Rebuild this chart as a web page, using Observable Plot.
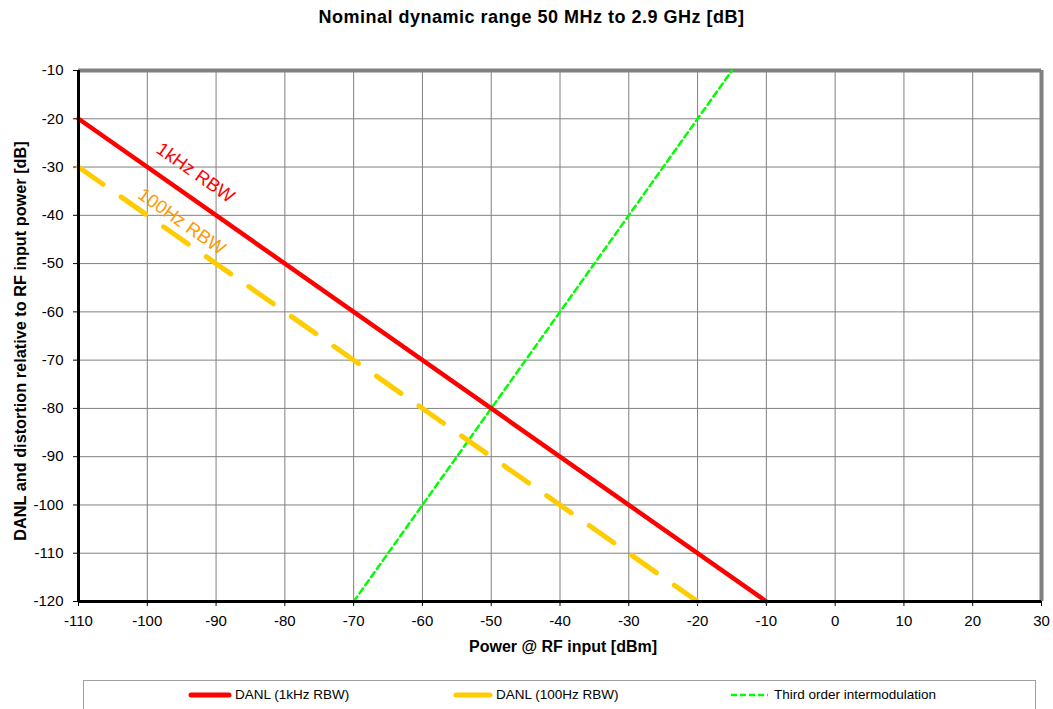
<!DOCTYPE html>
<html>
<head>
<meta charset="utf-8">
<script src="https://cdn.jsdelivr.net/npm/d3@7"></script>
<script src="https://cdn.jsdelivr.net/npm/@observablehq/plot@0.6"></script>
<style>
  html, body { margin: 0; padding: 0; background: #fff; }
  body { width: 1053px; height: 709px; overflow: hidden; font-family: "Liberation Sans", Arial, sans-serif; position: relative; }
  #title { height: 34px; line-height: 35px; text-align: center; font-weight: bold; font-size: 18px; letter-spacing: 0.5px; color: #000; padding-left: 10px; }
  #legend { position: absolute; left: 83px; top: 680px; width: 953px; height: 40px; border: 1px solid #a0a0a0; box-sizing: border-box; font-size: 13.5px; }
  .item { position: absolute; top: 6px; display: flex; align-items: center; white-space: nowrap; }
  .item svg { margin-right: 3px; }
</style>
</head>
<body>
<div id="title">Nominal dynamic range 50 MHz to 2.9 GHz [dB]</div>
<div id="chart"></div>
<div id="legend"></div>
<script>
const xTicks = [-110, -100, -90, -80, -70, -60, -50, -40, -30, -20, -10, 0, 10, 20, 30];
const yTicks = [-10, -20, -30, -40, -50, -60, -70, -80, -90, -100, -110, -120];

const danl1kX = [-110, -10];
const danl1kY = [-20, -120];
const danl100X = [-110, -20];
const danl100Y = [-30, -120];
const imdX = [-70, -15];
const imdY = [-120, -10];

const seriesNames = ["DANL (1kHz RBW)", "DANL (100Hz RBW)", "Third order intermodulation"];
const labelTexts = ["1kHz RBW", "100Hz RBW"];
const labelX = [-93, -95];
const labelY = [-31.2, -41.3];

const toPts = (xs, ys) => xs.map((x, i) => ({x, y: ys[i]}));

const chart = Plot.plot({
  width: 1053,
  height: 640,
  marginLeft: 78,
  marginRight: 12,
  marginTop: 36,
  marginBottom: 73,
  style: {fontFamily: "'Liberation Sans', Arial, sans-serif", fontSize: "15px", color: "#000", background: "#fff"},
  x: {domain: [-110, 30], label: null},
  y: {domain: [-120, -10], label: null},
  marks: [
    Plot.ruleX(xTicks.slice(1, -1), {stroke: "#808080", strokeWidth: 1}),
    Plot.ruleY(yTicks.slice(1, -1), {stroke: "#808080", strokeWidth: 1}),
    Plot.ruleY([-10], {stroke: "#808080", strokeWidth: 4}),
    Plot.ruleX([30], {stroke: "#808080", strokeWidth: 4}),
    Plot.axisX({ticks: xTicks, tickSize: 5, tickPadding: 9, label: null, tickFormat: d => String(d)}),
    Plot.axisY({ticks: yTicks, tickSize: 5, tickPadding: 10, label: null, tickFormat: d => String(d)}),
    Plot.line(toPts(imdX, imdY), {x: "x", y: "y", stroke: "#00ff00", strokeWidth: 2.5, strokeDasharray: "6,4"}),
    Plot.line(toPts(danl100X, danl100Y), {x: "x", y: "y", stroke: "#ffcc00", strokeWidth: 5, strokeDasharray: "30,22", strokeLinecap: "round"}),
    Plot.line(toPts(danl1kX, danl1kY), {x: "x", y: "y", stroke: "#ff0000", strokeWidth: 4.5}),
    Plot.ruleX([-110], {stroke: "#000", strokeWidth: 3}),
    Plot.ruleY([-120], {stroke: "#000", strokeWidth: 3}),
    Plot.text([0], {x: labelX[0], y: labelY[0], text: () => labelTexts[0], rotate: 35, fill: "#ff0000", fontSize: 18.5}),
    Plot.text([0], {x: labelX[1], y: labelY[1], text: () => labelTexts[1], rotate: 35, fill: "#ff9900", fontSize: 18.5}),
    Plot.text(["DANL and distortion relative to RF input power [dB]"], {frameAnchor: "left", textAnchor: "middle", dx: -58, dy: 5, rotate: -90, fontWeight: "bold", fontSize: 16.3}),
    Plot.text(["Power @ RF input [dBm]"], {frameAnchor: "bottom", dx: 3, dy: 50, fontWeight: "bold", fontSize: 16})
  ]
});
document.getElementById("chart").appendChild(chart);

const legend = document.getElementById("legend");
const items = [
  {name: seriesNames[0], left: 104, color: "#ff0000", w: 44, sw: 5, dash: null},
  {name: seriesNames[1], left: 369, color: "#ffcc00", w: 40, sw: 5, dash: null},
  {name: seriesNames[2], left: 644, color: "#00ff00", w: 43, sw: 2.5, dash: "6,3"}
];
items.forEach(it => {
  const d = document.createElement("div");
  d.className = "item";
  d.style.left = it.left + "px";
  d.innerHTML = `<svg width="${it.w}" height="10"><line x1="3" x2="${it.w - 3}" y1="5" y2="5" stroke="${it.color}" stroke-width="${it.sw}" stroke-linecap="${it.dash ? 'butt' : 'round'}" ${it.dash ? `stroke-dasharray="${it.dash}"` : ''}/></svg><span>${it.name}</span>`;
  legend.appendChild(d);
});
</script>
</body>
</html>
